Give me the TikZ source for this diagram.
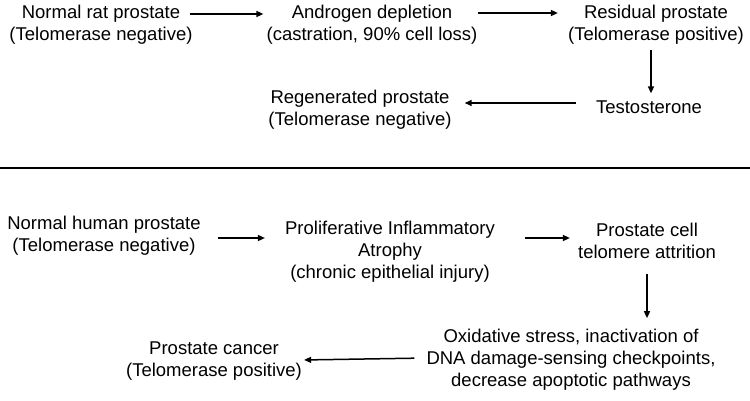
\documentclass[tikz,border=0pt]{standalone}
\usepackage{fontspec}
\setmainfont{Liberation Sans}
\usetikzlibrary{arrows.meta}
\begin{document}
\begin{tikzpicture}[x=1pt,y=-1pt,
  lbl/.style={align=center,inner sep=0pt,font=\fontsize{18.5}{22}\selectfont},
  arr/.style={line width=1.5pt,-{Triangle[length=7pt,width=6pt]}}]
\useasboundingbox (0,0) rectangle (750,401);
% top row
\node[lbl] (rat) at (101,25) {Normal rat prostate\\(Telomerase negative)};
\node[lbl] (andro) at (372,25) {Androgen depletion\\(castration, 90\% cell loss)};
\node[lbl] (resid) at (656,25) {Residual prostate\\(Telomerase positive)};
\node[lbl] (testo) at (649,107) {Testosterone};
\node[lbl] (regen) at (360,110) {Regenerated prostate\\(Telomerase negative)};
\draw[arr,shorten <=-3pt,shorten >=3pt] ([yshift=11pt]rat.east) -- ([yshift=11pt]andro.west);
\draw[arr,shorten >=10pt] ([yshift=12pt]andro.east) -- ([yshift=12pt]resid.west);
\draw[arr,shorten <=5pt,shorten >=7pt] ([xshift=-5pt]resid.south) -- ([xshift=2pt]testo.north);
\draw[arr,shorten <=20pt,shorten >=13pt] ([yshift=4pt]testo.west) -- ([yshift=7pt]regen.east);
% rule
\coordinate (rl) at (0,168);
\coordinate (rr) at (750,168);
\draw[line width=1.5pt] (rl) -- (rr);
% bottom
\node[lbl] (human) at (104,236) {Normal human prostate\\(Telomerase negative)};
\node[lbl] (pia) at (390,252) {Proliferative Inflammatory\\Atrophy\\(chronic epithelial injury)};
\node[lbl] (attr) at (647,241) {Prostate cell\\telomere attrition};
\node[lbl] (oxid) at (571,360) {Oxidative stress, inactivation of\\DNA damage-sensing checkpoints,\\decrease apoptotic pathways};
\node[lbl] (cancer) at (214,361) {Prostate cancer\\(Telomerase positive)};
\draw[arr,shorten <=17pt,shorten >=20pt] ([yshift=-2pt]human.east) -- ([yshift=14pt]pia.west);
\draw[arr,shorten <=30pt,shorten >=8pt] ([yshift=14pt]pia.east) -- ([yshift=3pt]attr.west);
\draw[arr,shorten <=15pt,shorten >=11pt] (attr.south) -- (attr.south |- oxid.north);
\draw[arr,shorten <=12pt,shorten >=2pt] ([yshift=2pt]oxid.west) -- ([yshift=1pt]cancer.east);
\end{tikzpicture}
\end{document}
